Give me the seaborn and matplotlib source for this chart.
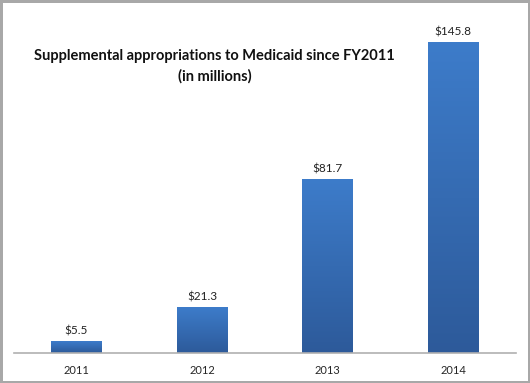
import matplotlib
matplotlib.use("Agg")
import matplotlib.pyplot as plt
import seaborn as sns
import numpy as np
import pandas as pd
from matplotlib.colors import LinearSegmentedColormap

years = ["2011", "2012", "2013", "2014"]
amounts = [5.5, 21.3, 81.7, 145.8]
labels = ["$5.5", "$21.3", "$81.7", "$145.8"]

title = "Supplemental appropriations to Medicaid since FY2011\n(in millions)"

df = pd.DataFrame({"year": years, "amount": amounts})

sns.set_style("white")
plt.rcParams["font.family"] = ["Lato", "DejaVu Sans"]

fig = plt.figure(figsize=(5.3, 3.83), dpi=100, edgecolor="#a8a8a8", linewidth=2.5)
ax = fig.add_axes([0.0255, 0.079, 0.948, 0.895])

sns.barplot(x="year", y="amount", data=df, ax=ax, color="#3a72bd",
            width=0.4, saturation=1)

# vertical gradient on bars, lighter at the top
cmap = LinearSegmentedColormap.from_list("bar", ["#2d5a9a", "#3d7cca"])
grad = np.linspace(0, 1, 256).reshape(-1, 1)
for p in ax.patches:
    x0, y0 = p.get_x(), p.get_y()
    w, h = p.get_width(), p.get_height()
    im = ax.imshow(grad, cmap=cmap, origin="lower", aspect="auto",
                   extent=[x0, x0 + w, y0, y0 + h], zorder=p.get_zorder() + 0.1)
    im.set_clip_path(p)

for i, (v, lab) in enumerate(zip(amounts, labels)):
    ax.text(i, v + 2.2, lab, ha="center", va="bottom", fontsize=8.5, color="#222222")

ax.set_xlim(-0.5, 3.5)
ax.set_ylim(0, 161)
ax.set_xlabel("")
ax.set_ylabel("")
ax.set_yticks([])

for s in ["top", "right", "left"]:
    ax.spines[s].set_visible(False)
ax.spines["bottom"].set_color("#b0b0b0")
ax.spines["bottom"].set_linewidth(1.2)

ax.set_xticks(range(len(years)))
ax.set_xticklabels(years, fontsize=8)
ax.tick_params(axis="x", which="major", length=0, pad=9)
ax.set_xticks([-0.5, 0.5, 1.5, 2.5, 3.5], minor=True)
ax.tick_params(axis="x", which="minor", length=4, color="#909090", direction="out")

fig.text(0.405, 0.827, title, ha="center", va="center", fontsize=10.5,
         fontweight="bold", linespacing=1.5, color="#111111")

fig.savefig("out.png", dpi=100)
